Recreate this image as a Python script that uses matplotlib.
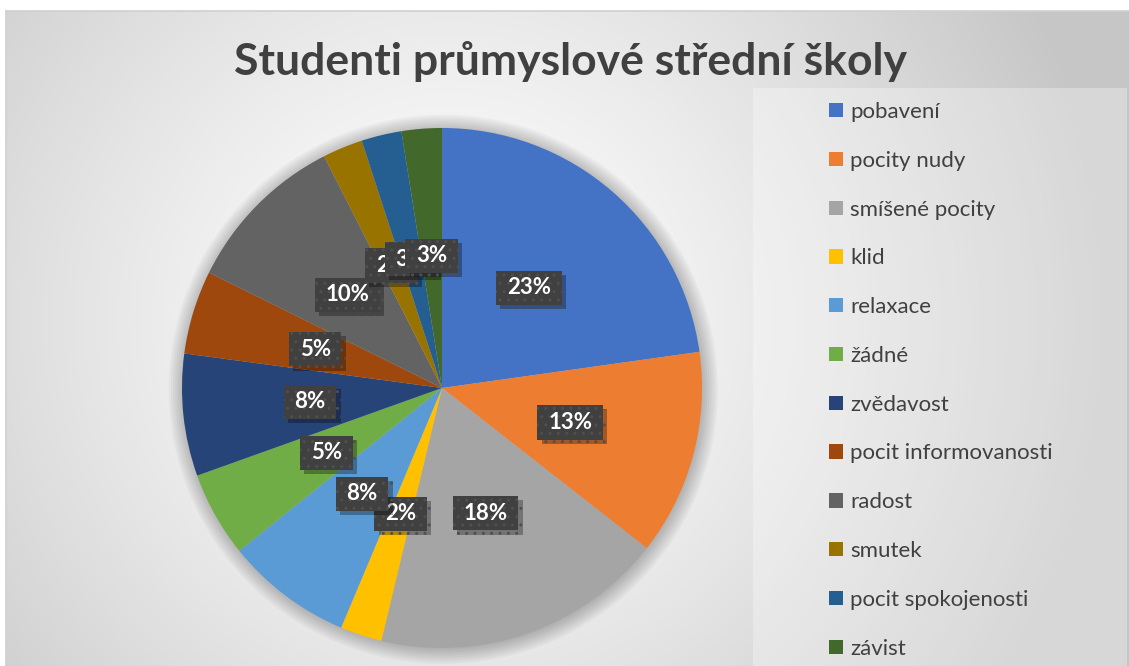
import numpy as np
import matplotlib
matplotlib.use("Agg")
import matplotlib.pyplot as plt
from matplotlib.patches import Rectangle, Patch, Circle
from matplotlib.path import Path
import matplotlib.patheffects as pe

# ---------------- data ----------------
title = "Studenti průmyslové střední školy"
categories = ["pobavení", "pocity nudy", "smíšené pocity", "klid", "relaxace",
              "žádné", "zvědavost", "pocit informovanosti", "radost", "smutek",
              "pocit spokojenosti", "závist"]
shares = [22.8, 12.8, 18.2, 2.6, 7.9, 5.3, 7.6, 5.2, 10.2, 2.5, 2.5, 2.5]
labels = ["23%", "13%", "18%", "2%", "8%", "5%", "8%", "5%", "10%", "2%", "3%", "3%"]
colors = ["#4472C4", "#ED7D31", "#A5A5A5", "#FFC000", "#5B9BD5", "#70AD47",
          "#264478", "#9E480E", "#636363", "#997300", "#255E91", "#43682B"]

W, H = 1129, 666
fig = plt.figure(figsize=(W / 100, H / 100), dpi=100)
fig.patch.set_facecolor("white")

# ---------------- background (radial gradient) ----------------
bg = fig.add_axes([0, 0, 1, 1])
bg.set_xlim(0, W)
bg.set_ylim(H, 0)
bg.axis("off")
yy, xx = np.mgrid[0:H, 0:W]
d = np.hypot(xx - 450, yy - 320) / 660.0
v = 1 - 0.22 * np.clip(d, 0, 1) ** 1.3
img = np.dstack([v, v, v])
img[:11, :, :] = 1.0
img[:, :6, :] = 1.0
bg.imshow(img, extent=(0, W, H, 0), interpolation="bilinear", zorder=0)
bg.plot([6, W], [11, 11], color="#d0d0d0", lw=1.2, zorder=1)
bg.plot([6, 6], [11, H], color="#d0d0d0", lw=1.2, zorder=1)
# legend background
bg.add_patch(Rectangle((753, 88), 374, 590, facecolor="white", alpha=0.3,
                       edgecolor="none", zorder=1))

fig.text(571 / W, 1 - 61 / H, title, ha="center", va="center",
         fontsize=32, fontweight="bold", color="#404040", family="Lato")

# ---------------- pie ----------------
cx, cy, R = 442, 388, 260
ax = fig.add_axes([(cx - R) / W, (H - cy - R) / H, 2 * R / W, 2 * R / H])
ax.set_facecolor("none")
ax.axis("off")

# soft shadow around the pie
for k in range(8):
    ax.add_patch(Circle((0.005, -0.005), 1.0 + 0.008 * k, facecolor="black",
                        alpha=0.03, edgecolor="none", zorder=0, clip_on=False))


def label_box(x0, y0, width, height, mutation_size):
    px = 0.48 * mutation_size
    py = 0.30 * mutation_size
    verts = [(x0 - px, y0 - py), (x0 + width + px, y0 - py),
             (x0 + width + px, y0 + height + py), (x0 - px, y0 + height + py),
             (x0 - px, y0 - py)]
    return Path(verts, closed=True)


it = iter(labels)
wedges, _, autotexts = ax.pie(shares, colors=colors, startangle=90, counterclock=False,
                              autopct=lambda p: next(it), pctdistance=0.51,
                              wedgeprops=dict(linewidth=0),
                              textprops=dict(color="white", fontsize=16,
                                             fontweight="bold", family="Lato"))
for w in wedges:
    w.set_zorder(1)
for i, t in enumerate(autotexts):
    t.set_zorder(3)
    t.set_bbox(dict(boxstyle=label_box, facecolor="#404040",
                    edgecolor="#4f4f4f", linewidth=0, hatch=".."))
    t.get_bbox_patch().set_path_effects([
        pe.SimplePatchShadow(offset=(3, -3), shadow_rgbFace="black", alpha=0.3),
        pe.Normal()])
ax.set_xlim(-1, 1)
ax.set_ylim(-1, 1)
ax.set_aspect("equal")

# ---------------- legend ----------------
handles = [Patch(facecolor=c, edgecolor="none") for c in colors]
leg = fig.legend(handles, categories, loc="upper left",
                 bbox_to_anchor=(829 / W, 1 - 102 / H), frameon=False,
                 prop=dict(family="Lato", size=16), labelcolor="#404040",
                 handlelength=0.62, handleheight=0.62, handletextpad=0.33,
                 labelspacing=1.295, borderpad=0, borderaxespad=0)

fig.savefig("out.png", dpi=100)
